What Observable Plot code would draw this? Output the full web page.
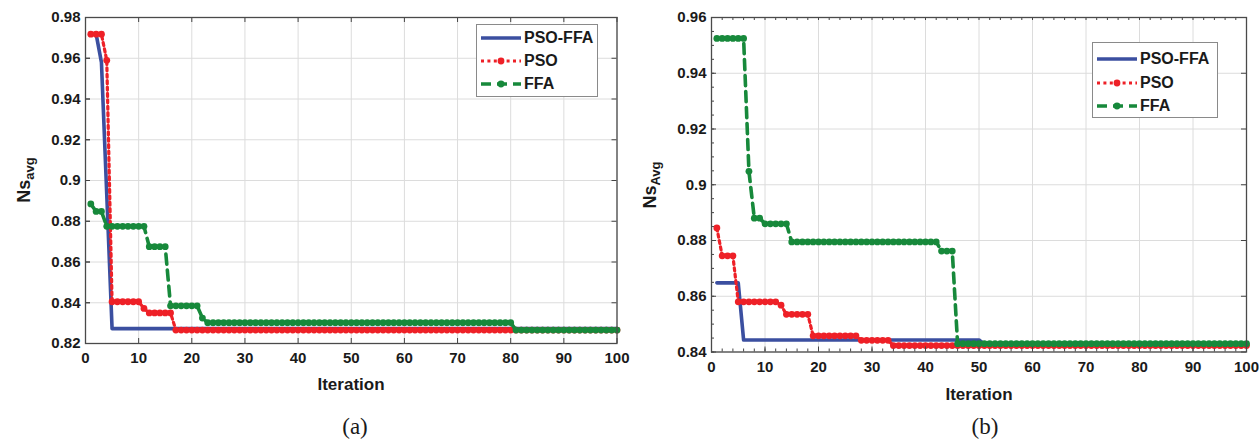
<!DOCTYPE html>
<html><head><meta charset="utf-8">
<script src="https://cdn.jsdelivr.net/npm/d3@7"></script>
<script src="https://cdn.jsdelivr.net/npm/@observablehq/plot@0.6"></script>
<style>
body{margin:0;background:#fff;}
#wrap{position:relative;width:1260px;height:445px;overflow:hidden;background:#fff;font-family:"Liberation Sans",Arial,sans-serif;color:#1a1a1a;}
.panel{position:absolute;top:0;}
.ylab{position:absolute;font-weight:bold;font-size:18px;white-space:nowrap;transform:translate(-50%,-50%) rotate(-90deg);}
.ylab sub{font-size:13px;vertical-align:-4px;}
.xlab{position:absolute;font-weight:bold;font-size:17px;white-space:nowrap;transform:translate(-50%,-50%);}
.legend{position:absolute;border:1px solid #8a8a8a;background:#fff;font-weight:bold;font-size:16px;box-sizing:border-box;}
.legend .row{display:flex;align-items:center;height:23px;}
.legend svg{margin-right:3px;}
.cap{position:absolute;font-family:"Liberation Serif","Times New Roman",serif;font-size:23px;transform:translate(-50%,0);}
</style>
</head><body>
<div id="wrap"></div>
<script>
// ---------- data (run-length: [value, number of iterations]) ----------
const iterations = d3.range(1, 101);
const seriesNames = ["PSO-FFA", "PSO", "FFA"];
const colors = ["#3b4fa0", "#ee2027", "#17893b"];

// (a)
const a_PSOFFA = [[0.9718,2],[0.958,1],[0.893,1],[0.8273,96]];
const a_PSO    = [[0.9718,3],[0.959,1],[0.8405,6],[0.8372,1],[0.835,5],[0.8266,84]];
const a_FFA    = [[0.8885,1],[0.8848,2],[0.8775,8],[0.8675,4],[0.8385,6],[0.8325,1],[0.8302,58],[0.8266,20]];
// (b)
const b_PSOFFA = [[0.8648,5],[0.8443,45],[0.8428,50]];
const b_PSO    = [[0.8845,1],[0.8745,3],[0.858,8],[0.8568,1],[0.8535,5],[0.8458,9],[0.8442,6],[0.8423,67]];
const b_FFA    = [[0.9525,6],[0.9048,1],[0.888,2],[0.886,5],[0.8795,28],[0.8762,3],[0.843,55]];

const xTicks = [0,10,20,30,40,50,60,70,80,90,100];
const xMinorB = d3.range(0, 101, 2);
const yTicksA = [0.82,0.84,0.86,0.88,0.9,0.92,0.94,0.96,0.98];
const yTicksB = [0.84,0.86,0.88,0.9,0.92,0.94,0.96];
const yMinorB = [0.84,0.845,0.85,0.855,0.86,0.865,0.87,0.875,0.88,0.885,0.89,0.895,0.9,0.905,0.91,0.915,0.92,0.925,0.93,0.935,0.94,0.945,0.95,0.955,0.96];

function expand(runs){ return runs.flatMap(([v,n]) => Array(n).fill(v)); }
function table(runs){ const v = expand(runs); return iterations.map((it,i)=>({iter:it, v:v[i]})); }

const styles = [
  {strokeWidth:3.6},
  {strokeWidth:3.2, strokeDasharray:"3,3.4", dots:true},
  {strokeWidth:3.6, strokeDasharray:"10,6", dots:true}
];

function makeChart(cfg){
  const ph = cfg.height - cfg.marginTop - cfg.marginBottom;
  const pw = cfg.width - cfg.marginLeft - cfg.marginRight;
  const marks = [
    Plot.gridX(cfg.xTicks, {stroke:"#dcdcdc", strokeOpacity:1}),
    Plot.gridY(cfg.yTicks, {stroke:"#dcdcdc", strokeOpacity:1}),
  ];
  cfg.series.forEach((runs, k) => {
    const d = table(runs);
    const s = styles[k];
    marks.push(Plot.line(d, {x:"iter", y:"v", stroke:colors[k], strokeWidth:s.strokeWidth, strokeDasharray:s.strokeDasharray, strokeLinejoin:"round"}));
    if (s.dots) marks.push(Plot.dot(d, {x:"iter", y:"v", r:3.4, fill:colors[k], stroke:"none"}));
  });
  const xt = cfg.xMinor || cfg.xTicks, yt = cfg.yMinor || cfg.yTicks;
  marks.push(
    Plot.tickX(cfg.xTicks, {x:d=>d, stroke:"#444", insetTop: ph-5}),
    Plot.tickX(xt, {x:d=>d, stroke:"#444", insetBottom: ph-(cfg.xMinor?3:5)}),
    Plot.tickX(cfg.xMinor || [], {x:d=>d, stroke:"#444", insetTop: ph-3}),
    Plot.tickY(yt, {y:d=>d, stroke:"#444", insetRight: pw-(cfg.yMinor?3:5)}),
    Plot.tickY(cfg.yTicks, {y:d=>d, stroke:"#444", insetRight: pw-5}),
    Plot.tickY(cfg.yTicks, {y:d=>d, stroke:"#444", insetLeft: pw-5}),
    Plot.frame({stroke:"#4a4a4a", strokeWidth:1.3}),
    Plot.axisX({ticks:cfg.xTicks, tickSize:0, tickPadding:9, label:null, fontSize:15, fontWeight:"bold"}),
    Plot.axisY({ticks:cfg.yTicks, tickSize:0, tickPadding:5, label:null, tickFormat:d=>String(d), fontSize:15, fontWeight:"bold"})
  );
  return Plot.plot({
    width:cfg.width, height:cfg.height,
    marginLeft:cfg.marginLeft, marginRight:cfg.marginRight, marginTop:cfg.marginTop, marginBottom:cfg.marginBottom,
    style:{fontFamily:'"Liberation Sans", Arial, sans-serif', color:"#1a1a1a", background:"transparent"},
    x:{domain:[0,100]},
    y:{domain:cfg.yDomain},
    marks
  });
}

const wrap = document.getElementById("wrap");
function place(el, left){ el.classList.add("panel"); el.style.left = left+"px"; wrap.appendChild(el); }

place(makeChart({width:630, height:400, marginLeft:85, marginRight:13.5, marginTop:17, marginBottom:57,
  yDomain:[0.82,0.98], xTicks, yTicks:yTicksA, series:[a_PSOFFA, a_PSO, a_FFA]}), 0);
place(makeChart({width:630, height:410, marginLeft:81, marginRight:14, marginTop:17, marginBottom:58.5,
  yDomain:[0.84,0.96], xTicks, yTicks:yTicksB, xMinor:xMinorB, yMinor:yMinorB, series:[b_PSOFFA, b_PSO, b_FFA]}), 630);

function addHTML(html){ const t=document.createElement("div"); t.innerHTML=html; const el=t.firstElementChild; wrap.appendChild(el); return el; }

addHTML('<div class="ylab" style="left:25px;top:180px">Ns<sub>avg</sub></div>');
addHTML('<div class="ylab" style="left:651px;top:185px">Ns<sub>Avg</sub></div>');
addHTML('<div class="xlab" style="left:351px;top:385px">Iteration</div>');
addHTML('<div class="xlab" style="left:979px;top:395px">Iteration</div>');
addHTML('<div class="cap" style="left:355px;top:414px">(a)</div>');
addHTML('<div class="cap" style="left:985px;top:414px">(b)</div>');

function legend(left, top, w, h, padTop, rowH){
  const el = document.createElement("div");
  el.className = "legend";
  Object.assign(el.style, {left:left+"px", top:top+"px", width:w+"px", height:h+"px", paddingTop:padTop+"px", paddingLeft:"4px"});
  seriesNames.forEach((name,k)=>{
    const s = styles[k];
    const row = document.createElement("div"); row.className="row"; row.style.height = rowH+"px";
    row.innerHTML = `<svg width="40" height="10"><line x1="0" x2="40" y1="5" y2="5" stroke="${colors[k]}" stroke-width="${s.strokeWidth}" ${s.strokeDasharray?`stroke-dasharray="${s.strokeDasharray}"`:""}/>${s.dots?`<circle cx="20" cy="5" r="3.4" fill="${colors[k]}"/>`:""}</svg><span>${name}</span>`;
    el.appendChild(row);
  });
  wrap.appendChild(el);
}
legend(476, 24, 122, 73, 1, 23);
legend(1092, 42, 126, 76, 4, 23.7);
</script>
</body></html>
